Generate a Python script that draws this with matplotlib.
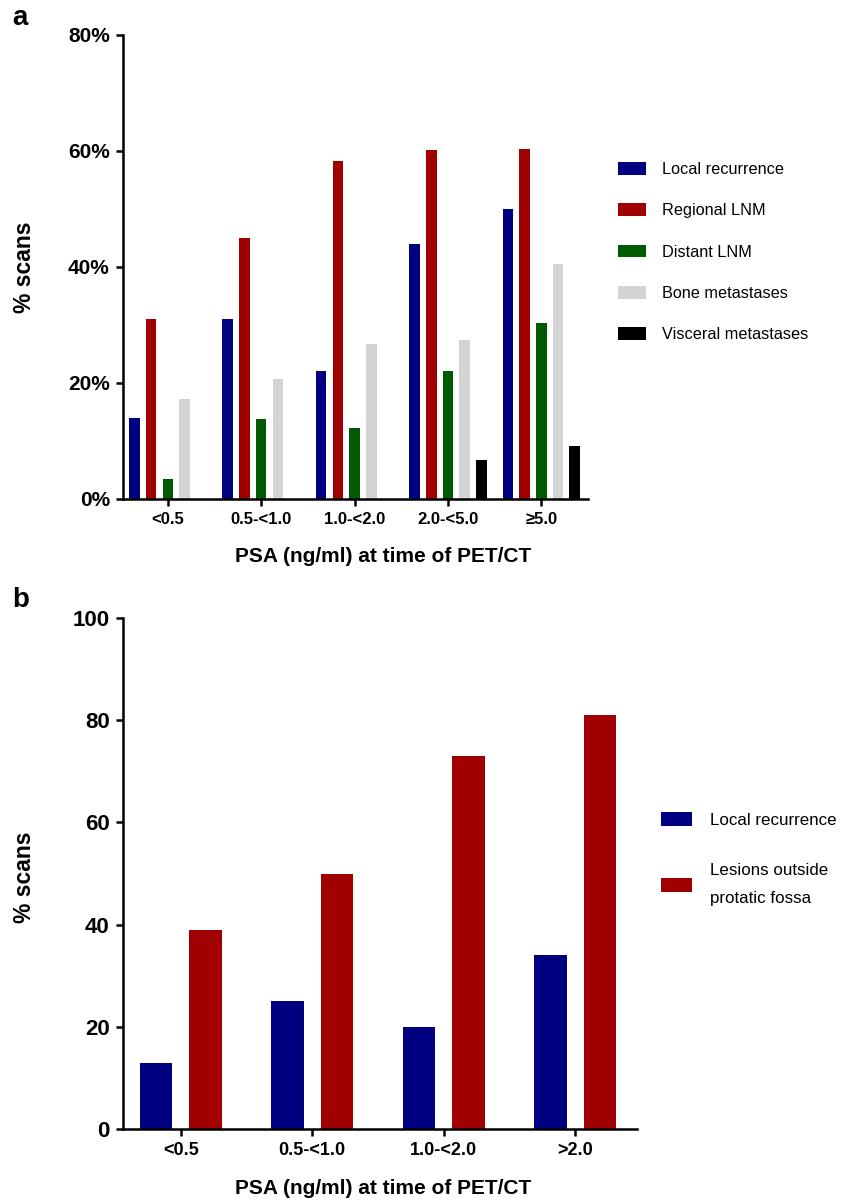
import matplotlib
matplotlib.use("Agg")
import matplotlib.pyplot as plt
import numpy as np

# panel a data (% of scans)
psa_a = ["<0.5", "0.5-<1.0", "1.0-<2.0", "2.0-<5.0", "\u22655.0"]
local_a = [14, 31, 22, 44, 50]
regional_a = [31, 45, 58.3, 60.2, 60.4]
distant_a = [3.4, 13.8, 12.2, 22, 30.3]
bone_a = [17.3, 20.7, 26.8, 27.5, 40.6]
visceral_a = [0, 0, 0, 6.8, 9.1]
series_a = ["Local recurrence", "Regional LNM", "Distant LNM", "Bone metastases", "Visceral metastases"]

# panel b data
psa_b = ["<0.5", "0.5-<1.0", "1.0-<2.0", ">2.0"]
local_b = [13, 25, 20, 34]
outside_b = [39, 50, 73, 81]
series_b = ["Local recurrence", "Lesions outside\nprotatic fossa"]

colors_a = ["#000080", "#a00000", "#005a00", "#d3d3d3", "#000000"]
colors_b = ["#000080", "#a00000"]

bold = dict(family=["Liberation Sans", "DejaVu Sans"], weight="bold")
reg = dict(family=["Liberation Sans", "DejaVu Sans"])

W, H = 858, 1201
fig = plt.figure(figsize=(W / 100, H / 100), dpi=100)


def style(ax, lw=1.8):
    for s in ["top", "right"]:
        ax.spines[s].set_visible(False)
    for s in ["left", "bottom"]:
        ax.spines[s].set_linewidth(lw)
    ax.tick_params(width=lw, length=5, direction="out", pad=4.5)


# ---- panel a
ax = fig.add_axes([123 / W, 1 - 499 / H, (588 - 123) / W, 464 / H])
x = np.arange(len(psa_a))
pitch, bw = 0.179, 0.113
vals = [local_a, regional_a, distant_a, bone_a, visceral_a]
for i, (v, c, lab) in enumerate(zip(vals, colors_a, series_a)):
    ax.bar(x + (i - 2) * pitch, v, bw, color=c, label=lab)
ax.set_xlim(-0.48, 4.5)
ax.set_ylim(0, 80)
ax.set_yticks([0, 20, 40, 60, 80])
ax.set_yticklabels([f"{t}%" for t in [0, 20, 40, 60, 80]], fontsize=15, **bold)
ax.set_xticks(x)
ax.set_xticklabels(psa_a, fontsize=12, **bold)
style(ax)
ax.set_xlabel("PSA (ng/ml) at time of PET/CT", fontsize=15, **bold)
ax.xaxis.label.set_va("center")
ax.xaxis.set_label_coords((383 - 123) / 465, (499 - 557) / 464)
ax.set_ylabel("% scans", fontsize=16.5, **bold)
ax.yaxis.label.set_va("center")
ax.yaxis.set_label_coords((25 - 123) / 465, 0.5)
ax.legend(loc="upper left", bbox_to_anchor=((618 - 123) / 465, (499 - 162) / 464),
          frameon=False, borderpad=0, borderaxespad=0,
          handlelength=1.72, handleheight=0.8, handletextpad=0.98,
          labelspacing=1.62, prop=dict(size=11.7, **reg))
fig.text(12 / W, 1 - 18 / H, "a", fontsize=20, va="center", ha="left", **bold)

# ---- panel b
ax2 = fig.add_axes([123 / W, 1 - 1129 / H, (637 - 123) / W, 511 / H])
x2 = np.arange(len(psa_b))
off, bw2 = 0.187, 0.247
ax2.bar(x2 - off, local_b, bw2, color=colors_b[0], label=series_b[0])
ax2.bar(x2 + off, outside_b, bw2, color=colors_b[1], label=series_b[1])
ax2.set_xlim(-0.44, 3.47)
ax2.set_ylim(0, 100)
ax2.set_yticks([0, 20, 40, 60, 80, 100])
ax2.set_yticklabels([str(t) for t in [0, 20, 40, 60, 80, 100]], fontsize=16, **bold)
ax2.set_xticks(x2)
ax2.set_xticklabels(psa_b, fontsize=13, **bold)
style(ax2)
ax2.set_xlabel("PSA (ng/ml) at time of PET/CT", fontsize=15, **bold)
ax2.xaxis.label.set_va("center")
ax2.xaxis.set_label_coords((383 - 123) / 514, (1129 - 1188) / 511)
ax2.set_ylabel("% scans", fontsize=16.5, **bold)
ax2.yaxis.label.set_va("center")
ax2.yaxis.set_label_coords((25 - 123) / 514, (1129 - 877) / 511)
leg2 = ax2.legend(loc="upper left", bbox_to_anchor=((661 - 123) / 514, (1129 - 812) / 511),
                  frameon=False, borderpad=0, borderaxespad=0,
                  handlelength=1.83, handleheight=0.89, handletextpad=1.06,
                  labelspacing=2.1, prop=dict(size=12.2, **reg))
for t in leg2.get_texts():
    t.set_linespacing(2.05)
fig.text(12 / W, 1 - 600 / H, "b", fontsize=20, va="center", ha="left", **bold)

fig.savefig("out.png", dpi=100)
